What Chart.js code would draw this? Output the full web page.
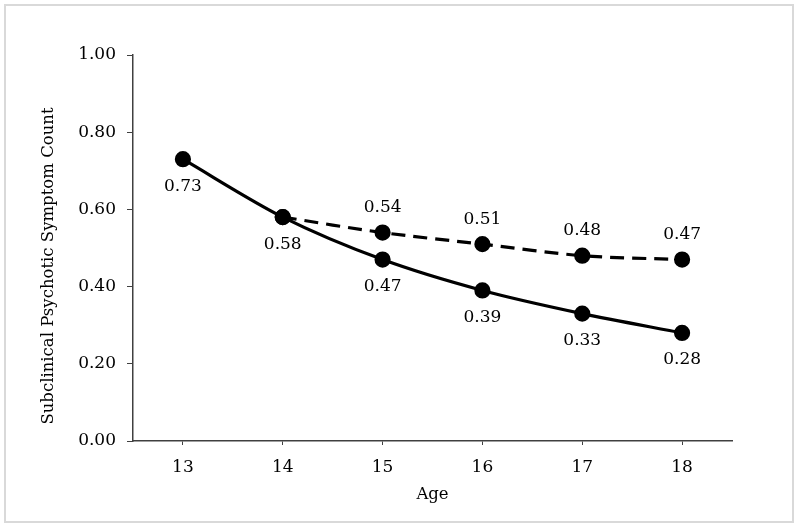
<!DOCTYPE html>
<html>
<head>
<meta charset="utf-8">
<script src="https://cdn.jsdelivr.net/npm/chart.js@4"></script>
<style>
  html, body { margin: 0; padding: 0; background: #fff; }
  #wrap { width: 800px; height: 528px; }
</style>
</head>
<body>
<div id="wrap"><canvas id="grafica" width="800" height="528"></canvas></div>
<script>
const ages = ["13", "14", "15", "16", "17", "18"];
const observed = [0.73, 0.58, 0.47, 0.39, 0.33, 0.28];
const expected = [null, 0.58, 0.54, 0.51, 0.48, 0.47];
const yTitle = "Subclinical Psychotic Symptom Count";
const xTitle = "Age";

const FONT = "DejaVu Serif";

// draws the frame, the value labels and the y title
const extras = {
  id: "extras",
  beforeDraw(chart) {
    const c = chart.ctx;
    c.save();
    c.fillStyle = "#fff";
    c.fillRect(0, 0, chart.width, chart.height);
    c.strokeStyle = "#d9d9d9";
    c.lineWidth = 2;
    c.strokeRect(5, 5, 788, 517);
    c.restore();
  },
  afterDatasetsDraw(chart) {
    const c = chart.ctx;
    c.save();
    c.font = "17px '" + FONT + "'";
    c.fillStyle = "#000";
    c.textAlign = "center";
    c.textBaseline = "middle";
    chart.data.datasets.forEach((ds, i) => {
      const meta = chart.getDatasetMeta(i);
      meta.data.forEach((pt, j) => {
        const v = ds.data[j];
        if (v == null) return;
        if (i === 1 && j === 1) return; // shared point, labelled once
        const dy = i === 0 ? 27 : -25;
        c.fillText(v.toFixed(2), pt.x, pt.y + dy);
      });
    });
    // y axis title
    c.translate(49, 266);
    c.rotate(-Math.PI / 2);
    c.font = "16.5px '" + FONT + "'";
    c.fillText(yTitle, 0, 0);
    c.restore();
  }
};

new Chart(document.getElementById("grafica"), {
  type: "line",
  data: {
    labels: ages,
    datasets: [
      {
        data: observed,
        borderColor: "#000",
        backgroundColor: "#000",
        borderWidth: 3.2,
        pointRadius: 6.5,
        pointHoverRadius: 6.5,
        tension: 0.3
      },
      {
        data: expected,
        borderColor: "#000",
        backgroundColor: "#000",
        borderWidth: 3.2,
        borderDash: [14, 8],
        pointRadius: 6.5,
        pointHoverRadius: 6.5,
        tension: 0.3
      }
    ]
  },
  options: {
    responsive: false,
    animation: false,
    layout: { padding: { top: 55, right: 68, bottom: 0, left: 0 } },
    plugins: {
      legend: { display: false },
      tooltip: { enabled: false }
    },
    scales: {
      x: {
        offset: true,
        grid: {
          offset: false,
          drawOnChartArea: false,
          tickLength: 4,
          tickColor: "#404040"
        },
        border: { color: "#404040", width: 1.5 },
        ticks: { color: "#000", font: { family: FONT, size: 17 }, padding: 12 },
        title: {
          display: true,
          text: xTitle,
          color: "#000",
          font: { family: FONT, size: 16.5 },
          padding: { top: 0, bottom: 23 }
        },
        afterFit(s) { s.height = 87; }
      },
      y: {
        min: 0,
        max: 1,
        ticks: {
          stepSize: 0.2,
          color: "#000",
          font: { family: FONT, size: 17 },
          padding: 11,
          callback: v => v.toFixed(2)
        },
        grid: {
          drawOnChartArea: false,
          tickLength: 6,
          tickColor: "#404040"
        },
        border: { color: "#404040", width: 1.5 },
        afterFit(s) { s.width = 133; }
      }
    }
  },
  plugins: [extras]
});
</script>
</body>
</html>
